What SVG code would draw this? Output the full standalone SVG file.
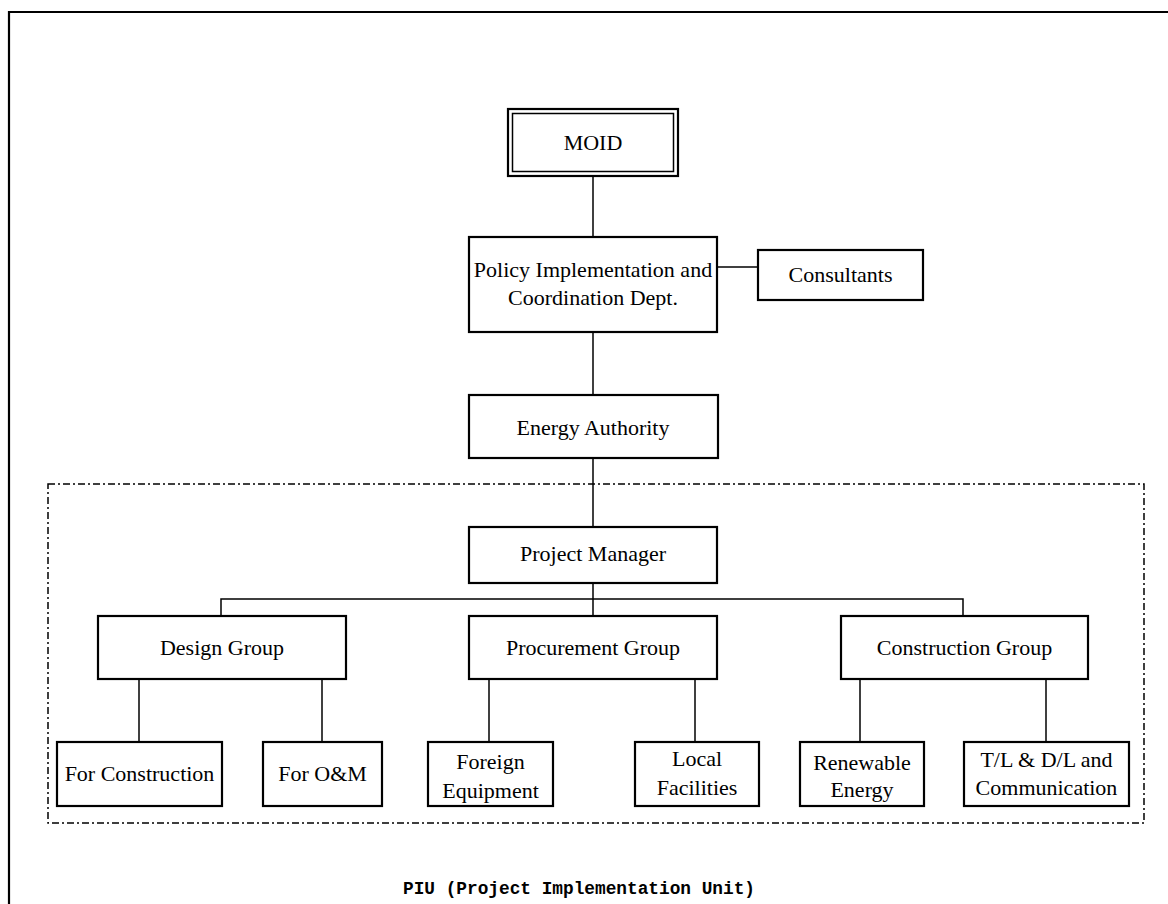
<svg xmlns="http://www.w3.org/2000/svg" width="1168" height="904" viewBox="0 0 1168 904">
<style>
.box{fill:#fff;stroke:#000;stroke-width:2.2}
.ln{stroke:#000;stroke-width:1.5;fill:none}
.t{font-family:"Liberation Serif","Times New Roman",serif;font-size:22px;fill:#000;text-anchor:middle}
.piu{font-family:"Liberation Mono","DejaVu Sans Mono",monospace;font-size:19px;font-weight:bold;fill:#000}
</style>
<rect x="0" y="0" width="1168" height="904" fill="#fff"/>
<path d="M9,904 V12 H1168" fill="none" stroke="#000" stroke-width="2.2"/>
<rect id="piu-frame" x="48" y="484" width="1096" height="339" fill="none" stroke="#000" stroke-width="1.5" stroke-dasharray="7 3 2 3"/>
<g id="connectors">
<path class="ln" d="M593,176 V237"/>
<path class="ln" d="M717,267 H758"/>
<path class="ln" d="M593,332 V395"/>
<path class="ln" d="M593,458 V527"/>
<path class="ln" d="M593,583 V616"/>
<path class="ln" d="M221,616 V599 H963 V616"/>
<path class="ln" d="M139,679 V742"/>
<path class="ln" d="M322,679 V742"/>
<path class="ln" d="M489,679 V742"/>
<path class="ln" d="M695,679 V742"/>
<path class="ln" d="M860,679 V742"/>
<path class="ln" d="M1046,679 V742"/>
</g>
<g id="moid">
<rect class="box" x="508" y="109" width="170" height="67"/>
<rect fill="none" stroke="#000" stroke-width="1.5" x="512.5" y="113.5" width="161" height="58"/>
<text class="t" x="593" y="150">MOID</text>
</g>
<g id="policy">
<rect class="box" x="469" y="237" width="248" height="95"/>
<text class="t" x="593" y="277">Policy Implementation and</text>
<text class="t" x="593" y="305">Coordination Dept.</text>
</g>
<g id="consultants">
<rect class="box" x="758" y="250" width="165" height="50"/>
<text class="t" x="840.5" y="282">Consultants</text>
</g>
<g id="energy">
<rect class="box" x="469" y="395" width="249" height="63"/>
<text class="t" x="593" y="435">Energy Authority</text>
</g>
<g id="pm">
<rect class="box" x="469" y="527" width="248" height="56"/>
<text class="t" x="593" y="561">Project Manager</text>
</g>
<g id="design">
<rect class="box" x="98" y="616" width="248" height="63"/>
<text class="t" x="222" y="655">Design Group</text>
</g>
<g id="procurement">
<rect class="box" x="469" y="616" width="248" height="63"/>
<text class="t" x="593" y="655">Procurement Group</text>
</g>
<g id="construction">
<rect class="box" x="841" y="616" width="247" height="63"/>
<text class="t" x="964.5" y="655">Construction Group</text>
</g>
<g id="for-construction">
<rect class="box" x="57" y="742" width="165" height="64"/>
<text class="t" x="139.5" y="781">For Construction</text>
</g>
<g id="for-om">
<rect class="box" x="263" y="742" width="119" height="64"/>
<text class="t" x="322.5" y="781">For O&amp;M</text>
</g>
<g id="foreign">
<rect class="box" x="428" y="742" width="125" height="64"/>
<text class="t" x="490.5" y="769">Foreign</text>
<text class="t" x="490.5" y="798">Equipment</text>
</g>
<g id="local">
<rect class="box" x="635" y="742" width="124" height="64"/>
<text class="t" x="697" y="766">Local</text>
<text class="t" x="697" y="795">Facilities</text>
</g>
<g id="renewable">
<rect class="box" x="800" y="742" width="124" height="64"/>
<text class="t" x="862" y="770">Renewable</text>
<text class="t" x="862" y="797">Energy</text>
</g>
<g id="tl">
<rect class="box" x="964" y="742" width="165" height="64"/>
<text class="t" x="1046.5" y="767">T/L &amp; D/L and</text>
<text class="t" x="1046.5" y="795">Communication</text>
</g>
<text class="piu" x="403" y="894" textLength="352" lengthAdjust="spacingAndGlyphs">PIU (Project Implementation Unit)</text>
</svg>
